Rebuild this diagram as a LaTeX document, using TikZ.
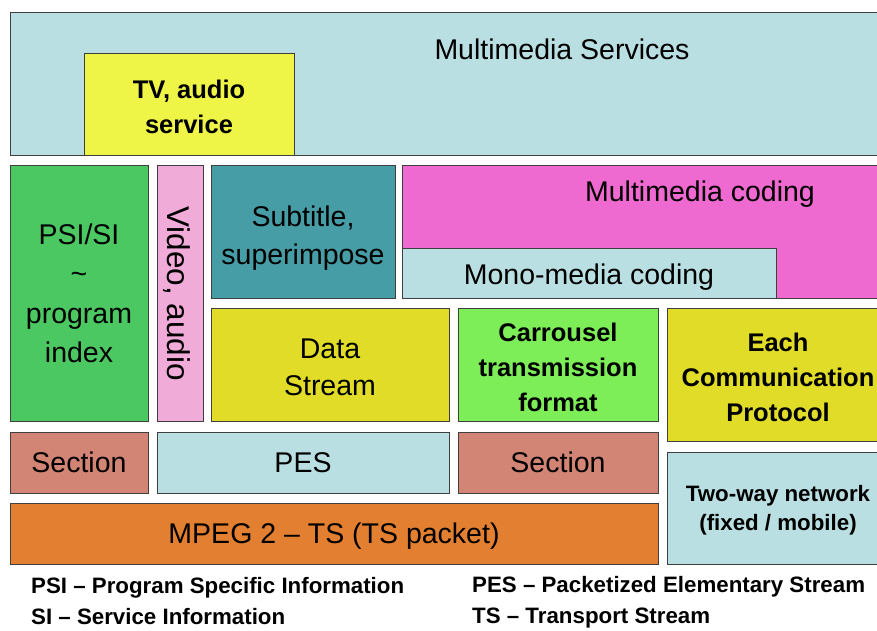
\documentclass[tikz,border=0pt]{standalone}
\usepackage{fontspec}
\setmainfont{Liberation Sans}
\definecolor{lblue}{HTML}{BADFE2}
\definecolor{tvyellow}{HTML}{EEF546}
\definecolor{psigreen}{HTML}{4BC862}
\definecolor{vpink}{HTML}{F1ABD8}
\definecolor{steal}{HTML}{479DA6}
\definecolor{mmagenta}{HTML}{EE6AD0}
\definecolor{dyellow}{HTML}{E0DC28}
\definecolor{cgreen}{HTML}{7DEE58}
\definecolor{salmon}{HTML}{D38575}
\definecolor{mpegorange}{HTML}{E27F30}
\definecolor{edge}{HTML}{3F3F3F}
\tikzset{
  layer/.style={draw=edge, line width=1pt, inner sep=0pt, align=center, text depth=0pt,
    font=\fontsize{28.5}{37.5}\selectfont},
  boldlayer/.style={layer, font=\fontsize{25.5}{35}\selectfont\bfseries},
  plaintext/.style={inner sep=0pt, align=center, text depth=0pt, font=\fontsize{28.5}{37.5}\selectfont},
  boldtext/.style={plaintext, font=\fontsize{25.5}{35}\selectfont\bfseries},
  % multi-line captions, lowered a little inside their box
  plaincap/.style 2 args={label={[plaintext, yshift=-#1]center:{#2}}},
  boldcap/.style 2 args={label={[boldtext, yshift=-#1]center:{#2}}},
  legend/.style={inner sep=0pt, anchor=base west, font=\fontsize{22.3}{26}\selectfont\bfseries}
}
\begin{document}
\begin{tikzpicture}[x=1pt,y=-1pt]
\useasboundingbox (0,0) rectangle (877,630);
\fill[white] (0,0) rectangle (877,630);
% top layer: services
\node[layer, fill=lblue, minimum width=879pt, minimum height=143pt] (services) at (449.5,83.5) {};
\node[plaintext] (servicestext) at (562,49.5) {Multimedia Services};
\node[layer, boldcap={2.5pt}{TV, audio\\service}, fill=tvyellow, minimum width=210pt, minimum height=102pt] (tv) at (189,104) {};
% middle layer
\node[layer, fill=psigreen, minimum width=138pt, minimum height=256pt,
  font=\fontsize{28.5}{39.5}\selectfont] (psi) at (79,293) {PSI/SI\\\textasciitilde\\program\\index};
\node[layer, fill=vpink, minimum width=46pt, minimum height=256pt] (video) at (180,293) {};
\node[plaintext, rotate=-90, font=\fontsize{31.5}{38}\selectfont] (videotext) at (179,293.5) {Video, audio};
\node[layer, plaincap={3.5pt}{Subtitle,\\superimpose}, fill=steal, minimum width=184pt, minimum height=133pt] (subtitle) at (303,231.5) {};
\node[layer, fill=mmagenta, minimum width=487pt, minimum height=133pt] (mmcoding) at (645.5,231.5) {};
\node[plaintext] (mmcodingtext) at (700,191) {Multimedia coding};
\node[layer, fill=lblue, minimum width=374pt, minimum height=50pt] (mono) at (589,273) {};
\node[plaintext] (monotext) at (589,274) {Mono-media coding};
\node[layer, plaincap={2.5pt}{Data\\Stream}, fill=dyellow, minimum width=238pt, minimum height=113pt] (data) at (330,364.5) {};
\node[layer, boldcap={2.5pt}{Carrousel\\transmission\\format}, fill=cgreen, minimum width=200pt, minimum height=113pt] (carrousel) at (558,364.5) {};
\node[layer, boldcap={3pt}{Each\\Communication\\Protocol}, fill=dyellow, minimum width=222pt, minimum height=133pt] (each) at (778,374.5) {};
% lower layer
\node[layer, fill=salmon, minimum width=138pt, minimum height=61pt] (section1) at (79,462.5) {Section};
\node[layer, fill=lblue, minimum width=292pt, minimum height=61pt] (pes) at (303,462.5) {PES};
\node[layer, fill=salmon, minimum width=200pt, minimum height=61pt] (section2) at (558,462.5) {Section};
\node[layer, fill=lblue, minimum width=222pt, minimum height=112pt,
  font=\fontsize{22.3}{29}\selectfont\bfseries] (twoway) at (778,508) {Two-way network\\(fixed / mobile)};
\node[layer, fill=mpegorange, minimum width=648pt, minimum height=61pt] (mpeg) at (334,533.5) {MPEG 2 -- TS (TS packet)};
% abbreviations
\node[legend] (lpsi) at (31,593) {PSI -- Program Specific Information};
\node[legend] (lsi) at (31,624) {SI -- Service Information};
\node[legend] (lpes) at (472,592) {PES -- Packetized Elementary Stream};
\node[legend] (lts) at (472,623) {TS -- Transport Stream};
\end{tikzpicture}
\end{document}
